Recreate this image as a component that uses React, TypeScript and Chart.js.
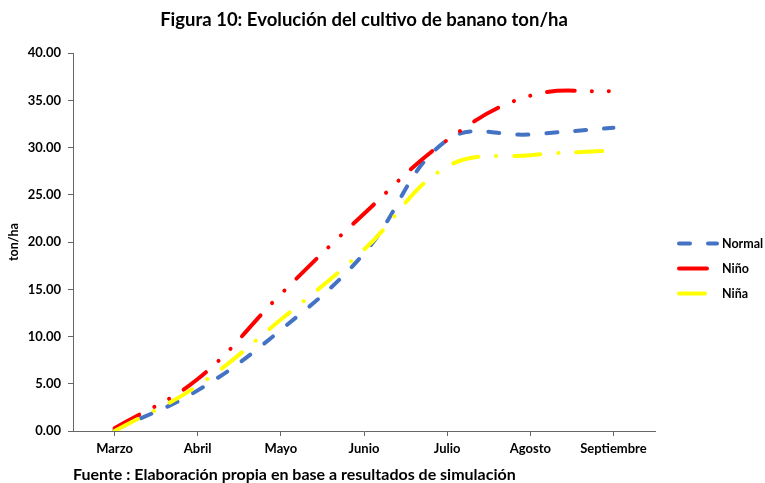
import React, { useEffect, useRef } from 'react';
import { Chart, registerables } from 'chart.js';

Chart.register(...registerables);

// Months of the simulated banana crop cycle
const months = ['Marzo', 'Abril', 'Mayo', 'Junio', 'Julio', 'Agosto', 'Septiembre'];

// Yield (ton/ha) under each climate scenario
const normal = [0.1, 4.3, 10.7, 18.8, 30.8, 31.4, 32.1];
const nino = [0.3, 5.5, 14.5, 23.0, 30.8, 35.5, 36.0];
const nina = [0.0, 4.8, 11.8, 19.2, 28.0, 29.2, 29.7];

const FONT = 'Lato, "Open Sans", sans-serif';

// Legend drawn to the right of the plot area, Excel style
const sideLegend = {
  id: 'sideLegend',
  afterDraw(chart: any) {
    const { ctx, chartArea } = chart;
    const cy = (chartArea.top + chartArea.bottom) / 2 + 1.5;
    ctx.save();
    chart.data.datasets.forEach((ds: any, i: number) => {
      const y = cy + i * 25;
      const x0 = chartArea.right + 24;
      ctx.beginPath();
      ctx.lineWidth = 4;
      ctx.lineCap = 'round';
      ctx.strokeStyle = ds.borderColor;
      ctx.setLineDash(ds.borderDash || []);
      ctx.moveTo(x0, y);
      ctx.lineTo(x0 + 38, y);
      ctx.stroke();
      ctx.setLineDash([]);
      ctx.fillStyle = '#000';
      ctx.font = `bold 12.5px ${FONT}`;
      ctx.textBaseline = 'middle';
      ctx.textAlign = 'left';
      ctx.fillText(ds.label, chartArea.right + 67, y);
    });
    ctx.restore();
  },
};

export default function App() {
  const ref = useRef<HTMLCanvasElement>(null);

  useEffect(() => {
    if (!ref.current) return;
    const common = {
      borderWidth: 4,
      borderCapStyle: 'round' as const,
      pointRadius: 0,
      pointHoverRadius: 0,
      tension: 0.4,
      fill: false,
    };
    const chart = new Chart(ref.current, {
      type: 'line',
      data: {
        labels: months,
        datasets: [
          { ...common, label: 'Normal', data: normal, borderColor: '#4472C4', borderDash: [11, 18], order: 2 },
          { ...common, label: 'Niño', data: nino, borderColor: '#FF0000', borderDash: [28, 17, 0.1, 17, 0.1, 17], order: 1 },
          { ...common, label: 'Niña', data: nina, borderColor: '#FFFF00', borderDash: [26, 18, 0.1, 18], order: 0 },
        ],
      },
      options: {
        animation: false,
        responsive: false,
        devicePixelRatio: 1,
        layout: { padding: { left: 0, right: 110, top: 0, bottom: 0 } },
        plugins: {
          legend: { display: false },
          tooltip: { enabled: false },
          title: {
            display: true,
            text: 'Figura 10: Evolución del cultivo de banano ton/ha',
            fullSize: false,
            color: '#000',
            font: { family: FONT, size: 18.5, weight: 'bold', lineHeight: 1.2 },
            padding: { top: 9, bottom: 22 },
          },
          subtitle: {
            display: true,
            text: 'Fuente : Elaboración propia en base a resultados de simulación',
            position: 'bottom',
            align: 'start',
            fullSize: false,
            color: '#000',
            font: { family: FONT, size: 16, weight: 'bold', lineHeight: 1 },
            padding: { top: 10, bottom: 0 },
          },
        },
        scales: {
          x: {
            type: 'category',
            offset: true,
            grid: { display: true, drawOnChartArea: false, drawTicks: true, tickLength: 5, offset: false, color: '#666' },
            border: { display: true, color: '#666', width: 1 },
            ticks: { color: '#000', font: { family: FONT, size: 13, weight: 'bold' }, padding: 5, maxRotation: 0, autoSkip: false },
            afterFit: (s: any) => {
              s.height = 26;
            },
          },
          y: {
            min: 0,
            max: 40,
            grid: { display: true, drawOnChartArea: false, drawTicks: true, tickLength: 5, color: '#666' },
            border: { display: true, color: '#666', width: 1 },
            ticks: {
              stepSize: 5,
              color: '#000',
              font: { family: FONT, size: 13, weight: 'bold' },
              padding: 7,
              callback: (v: any) => Number(v).toFixed(2),
            },
            title: {
              display: true,
              text: 'ton/ha',
              color: '#000',
              font: { family: FONT, size: 12.5, weight: 'bold' },
              padding: { top: 6, bottom: 0 },
            },
            afterFit: (s: any) => {
              s.width = 73;
            },
          },
        },
      },
      plugins: [sideLegend],
    });
    return () => chart.destroy();
  }, []);

  return (
    <div style={{ position: 'absolute', left: 0, top: 0, width: 765, height: 483, background: '#fff' }}>
      <canvas ref={ref} width={765} height={483} />
    </div>
  );
}
